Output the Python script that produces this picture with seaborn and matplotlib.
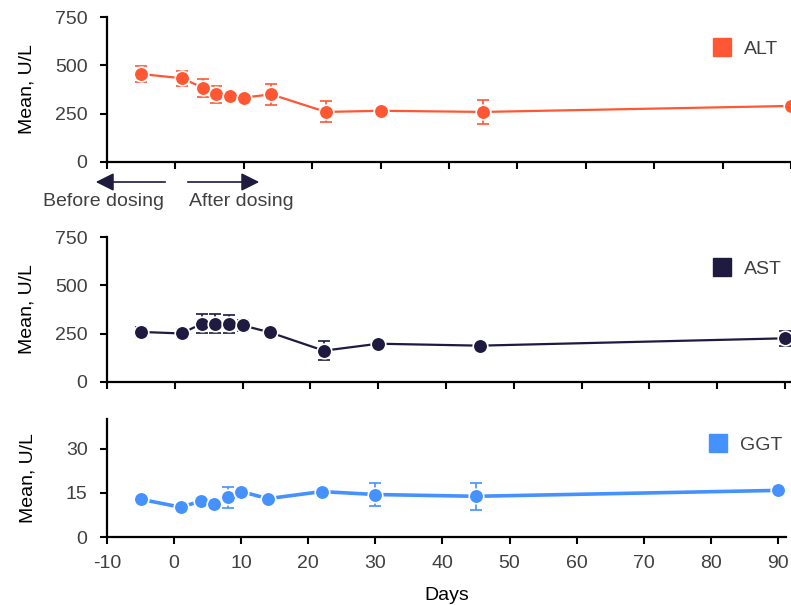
import matplotlib
matplotlib.use("Agg")
import matplotlib.pyplot as plt
from matplotlib.lines import Line2D
from matplotlib.patches import FancyArrowPatch
import seaborn as sns
import pandas as pd

# study days
days = [-5, 1, 4, 6, 8, 10, 14, 22, 30, 45, 90]

# mean values and error (half-width) per enzyme
alt_mean = [455, 433, 384, 350, 343, 333, 350, 259, 265, 259, 290]
alt_err = [43, 40, 47, 43, 15, 10, 55, 54, 15, 62, 15]
ast_mean = [259, 251, 302, 302, 300, 293, 257, 162, 198, 188, 226]
ast_err = [28, 25, 48, 48, 48, 28, 12, 50, 20, 10, 40]
ggt_mean = [12.8, 10.1, 12.2, 11.1, 13.5, 15.4, 13.0, 15.4, 14.4, 13.8, 15.8]
ggt_err = [0.8, 0.8, 0.8, 0.8, 3.5, 1.0, 0.8, 0.8, 3.8, 4.6, 0.8]

colors = {"ALT": "#FF5733", "AST": "#1E1A40", "GGT": "#4592FF"}

sns.set_style("ticks")
plt.rcParams["font.family"] = ["Liberation Sans", "DejaVu Sans"]
plt.rcParams["axes.unicode_minus"] = False

FS = 14
W, H = 791, 605
fig = plt.figure(figsize=(W / 100, H / 100), dpi=100)

def px_axes(left, right, top, bottom):
    return fig.add_axes([left / W, 1 - bottom / H, (right - left) / W, (bottom - top) / H])

panels = [
    ("ALT", alt_mean, alt_err, px_axes(107, 791, 17, 162), (0, 750), [0, 250, 500, 750], 90.0, 1.6),
    ("AST", ast_mean, ast_err, px_axes(107, 791, 237, 382), (0, 750), [0, 250, 500, 750], 90.9, 1.6),
    ("GGT", ggt_mean, ggt_err, px_axes(107, 786, 419, 537), (0, 40), [0, 15, 30], 91.2, 2.6),
]

for i, (name, mean, err, ax, ylim, yticks, xmax, lw) in enumerate(panels):
    c = colors[name]
    df = pd.DataFrame({"Days": days, "Mean": mean})
    ax.errorbar(days, mean, yerr=err, fmt="none", ecolor=c, elinewidth=1.2,
                capsize=4, capthick=1.2, zorder=2)
    sns.lineplot(data=df, x="Days", y="Mean", ax=ax, color=c, linewidth=lw,
                 marker="o", markersize=10.5, markeredgecolor="white",
                 markeredgewidth=1.2, zorder=3)
    ax.set_xlim(-10, xmax)
    ax.set_ylim(*ylim)
    ax.set_yticks(yticks)
    ax.set_xticks(range(-10, 91, 10))
    for s in ["top", "right"]:
        ax.spines[s].set_visible(False)
    for s in ["left", "bottom"]:
        ax.spines[s].set_linewidth(1.6)
        ax.spines[s].set_color("black")
    ax.tick_params(axis="both", length=5, width=1.5, colors="black",
                   labelcolor="#404040", labelsize=FS)
    ax.tick_params(axis="x", pad=8)
    ax.tick_params(axis="y", pad=9)
    ax.set_ylabel("Mean, U/L", fontsize=FS, color="black")
    ax.yaxis.set_label_coords(-0.104, 0.5)
    if i < 2:
        ax.set_xticklabels([])
        ax.set_xlabel("")
    else:
        ax.set_xlabel("Days", fontsize=FS, color="black", labelpad=11)
    handle = Line2D([], [], marker="s", ls="", color=c, markersize=13)
    ax.legend([handle], [name], loc="center left", bbox_to_anchor=(0.86, 0.78),
              frameon=False, fontsize=FS, handletextpad=0.1, borderaxespad=0,
              labelcolor="#404040")

# dosing arrows under the top panel
arrow_col = "#1E1A40"
for x0, x1 in [(168, 93), (185, 262)]:
    fig.add_artist(FancyArrowPatch(
        (x0 / W, 1 - 182 / H), (x1 / W, 1 - 182 / H), transform=fig.transFigure,
        arrowstyle="-|>,head_length=11,head_width=5.5", color=arrow_col, lw=1.2,
        mutation_scale=1))
fig.text(104 / W, 1 - 201 / H, "Before dosing", ha="center", va="center",
         fontsize=FS, color="#404040")
fig.text(241 / W, 1 - 201 / H, "After dosing", ha="center", va="center",
         fontsize=FS, color="#404040")

fig.savefig("out.png", dpi=100)
